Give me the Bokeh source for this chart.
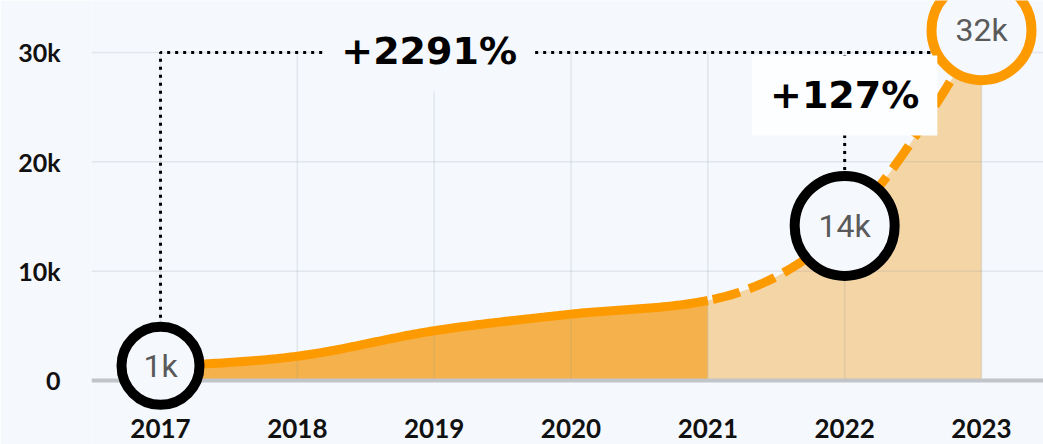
import numpy as np
from bokeh.plotting import figure
from bokeh.models import FixedTicker, Range1d
from bokeh.core.properties import value
from bokeh.embed import file_html
from bokeh.resources import INLINE

# ---- data ----
years = [2017, 2018, 2019, 2020, 2021, 2022, 2023]
users = [1340, 2220, 4550, 6070, 7320, 14140, 32040]
year_labels = ["2017", "2018", "2019", "2020", "2021", "2022", "2023"]
y_ticks = [0, 10000, 20000, 30000]
y_tick_labels = ["0", "10k", "20k", "30k"]
actual_until = 2021          # solid line / dark area up to this year, dashed after
highlight_years = [2017, 2022, 2023]
highlight_labels = ["1k", "14k", "32k"]
growth_labels = ["+2291%", "+127%"]   # 2017->2023, 2022->2023

BG = "#f5f8fc"
ORANGE = "#fd9a00"
AREA_DARK = "#f5b14b"
AREA_LIGHT = "#f3d5a6"


def monotone(xs, ys, n=40):
    xs = np.asarray(xs, float)
    ys = np.asarray(ys, float)
    h = np.diff(xs)
    d = np.diff(ys) / h
    m = np.zeros_like(ys)
    for i in range(1, len(xs) - 1):
        if d[i - 1] * d[i] <= 0:
            m[i] = 0
        else:
            p = (d[i - 1] * h[i] + d[i] * h[i - 1]) / (h[i - 1] + h[i])
            m[i] = (np.sign(d[i - 1]) + np.sign(d[i])) * min(abs(d[i - 1]), abs(d[i]), 0.5 * abs(p))
    m[0] = (3 * d[0] - m[1]) / 2
    m[-1] = (3 * d[-1] - m[-2]) / 2
    ox, oy = [], []
    for i in range(len(xs) - 1):
        t = np.linspace(0, 1, n, endpoint=(i == len(xs) - 2))
        h00 = 2 * t**3 - 3 * t**2 + 1
        h10 = t**3 - 2 * t**2 + t
        h01 = -2 * t**3 + 3 * t**2
        h11 = t**3 - t**2
        ox.extend(xs[i] + t * h[i])
        oy.extend(h00 * ys[i] + h10 * h[i] * m[i] + h01 * ys[i + 1] + h11 * h[i] * m[i + 1])
    return np.array(ox), np.array(oy)


cx, cy = monotone(years, users)
solid = cx <= actual_until + 1e-9
dash = cx >= actual_until - 1e-9

x0, x1 = 2016.4957, 2023.453
y0, y1 = -5854, 34756

p = figure(width=1043, height=444, output_backend="svg", toolbar_location=None,
           x_range=Range1d(x0, x1), y_range=Range1d(y0, y1),
           min_border_left=91, min_border_right=0, min_border_top=0, min_border_bottom=0)
p.background_fill_color = BG
p.border_fill_color = BG
p.outline_line_color = None
p.xaxis.visible = False
p.xgrid.visible = False
p.ygrid.visible = False

ya = p.yaxis[0]
ya.ticker = FixedTicker(ticks=y_ticks)
ya.major_label_overrides = {t: l for t, l in zip(y_ticks, y_tick_labels)}
ya.axis_line_color = None
ya.major_tick_line_color = None
ya.minor_tick_line_color = None
ya.major_tick_out = 0
ya.major_label_standoff = 31
ya.major_label_text_font = "Lato"
ya.major_label_text_font_style = "bold"
ya.major_label_text_font_size = "25px"
ya.major_label_text_color = "#111111"

# areas
p.varea(x=cx[solid], y1=0, y2=cy[solid], fill_color=AREA_DARK)
p.varea(x=cx[dash], y1=0, y2=cy[dash], fill_color=AREA_LIGHT)

# grid lines (vertical bounded to top tick)
p.segment(x0=years, y0=[y_ticks[0]] * len(years), x1=years, y1=[y_ticks[-1]] * len(years),
          line_color="#7f8c99", line_alpha=0.16, line_width=1.5)
p.segment(x0=[x0] * 3, y0=y_ticks[1:], x1=[x1] * 3, y1=y_ticks[1:],
          line_color="#7f8c99", line_alpha=0.16, line_width=1.5)
# baseline
p.segment(x0=[x0], y0=[y_ticks[0]], x1=[x1], y1=[y_ticks[0]], line_color="#c1c5ca", line_width=4)

# curve
p.line(cx[solid], cy[solid], line_color=ORANGE, line_width=9, line_join="round")
p.line(cx[dash], cy[dash], line_color=ORANGE, line_width=9, line_dash="28 10",
       line_dash_offset=33)

# dotted brackets
v = dict(zip(years, users))
p.line([years[0], years[0], years[-1]], [v[years[0]], y_ticks[-1], y_ticks[-1]],
       line_color="black", line_width=3, line_dash="3 5")
p.line([years[5], years[5], years[-1]], [v[years[5]], y_ticks[-1], y_ticks[-1]],
       line_color="black", line_width=3, line_dash="3 5")

# highlight circles
hx = highlight_years
hy = [v[yr] for yr in hx]
p.scatter(x=hx[:1], y=hy[:1], size=78, fill_color=BG, line_color="black", line_width=10)
p.scatter(x=hx[1:2], y=hy[1:2], size=100, fill_color=BG, line_color="black", line_width=10)
p.scatter(x=hx[2:], y=hy[2:], size=100, fill_color=BG, line_color=ORANGE, line_width=10)
p.text(x=hx, y=hy, text=highlight_labels, text_align="center", text_baseline="middle",
       text_font=value("Roboto"), text_font_size="32px", text_color="#5a5a5a")

# growth labels
p.text(x=[years[2]], y=[y_ticks[-1]], text=growth_labels[:1], x_offset=-5, y_offset=-1,
       text_align="center", text_baseline="alphabetic",
       text_font=value("DejaVu Sans"), text_font_style="bold", text_font_size="38px",
       text_color="black", background_fill_color=BG, padding=18)
p.text(x=[years[5]], y=[y_ticks[-1]], text=growth_labels[1:], y_offset=43,
       text_align="center", text_baseline="alphabetic",
       text_font=value("DejaVu Sans"), text_font_style="bold", text_font_size="38px",
       text_color="black", background_fill_color="#fdfeff", padding=18)

# year labels
p.text(x=years, y=[y_ticks[0]] * len(years), text=year_labels, y_offset=48,
       text_align="center", text_baseline="alphabetic",
       text_font=value("Lato"), text_font_style="bold", text_font_size="26px",
       text_color="#111111")

open("out.html", "w").write(file_html(p, INLINE))
